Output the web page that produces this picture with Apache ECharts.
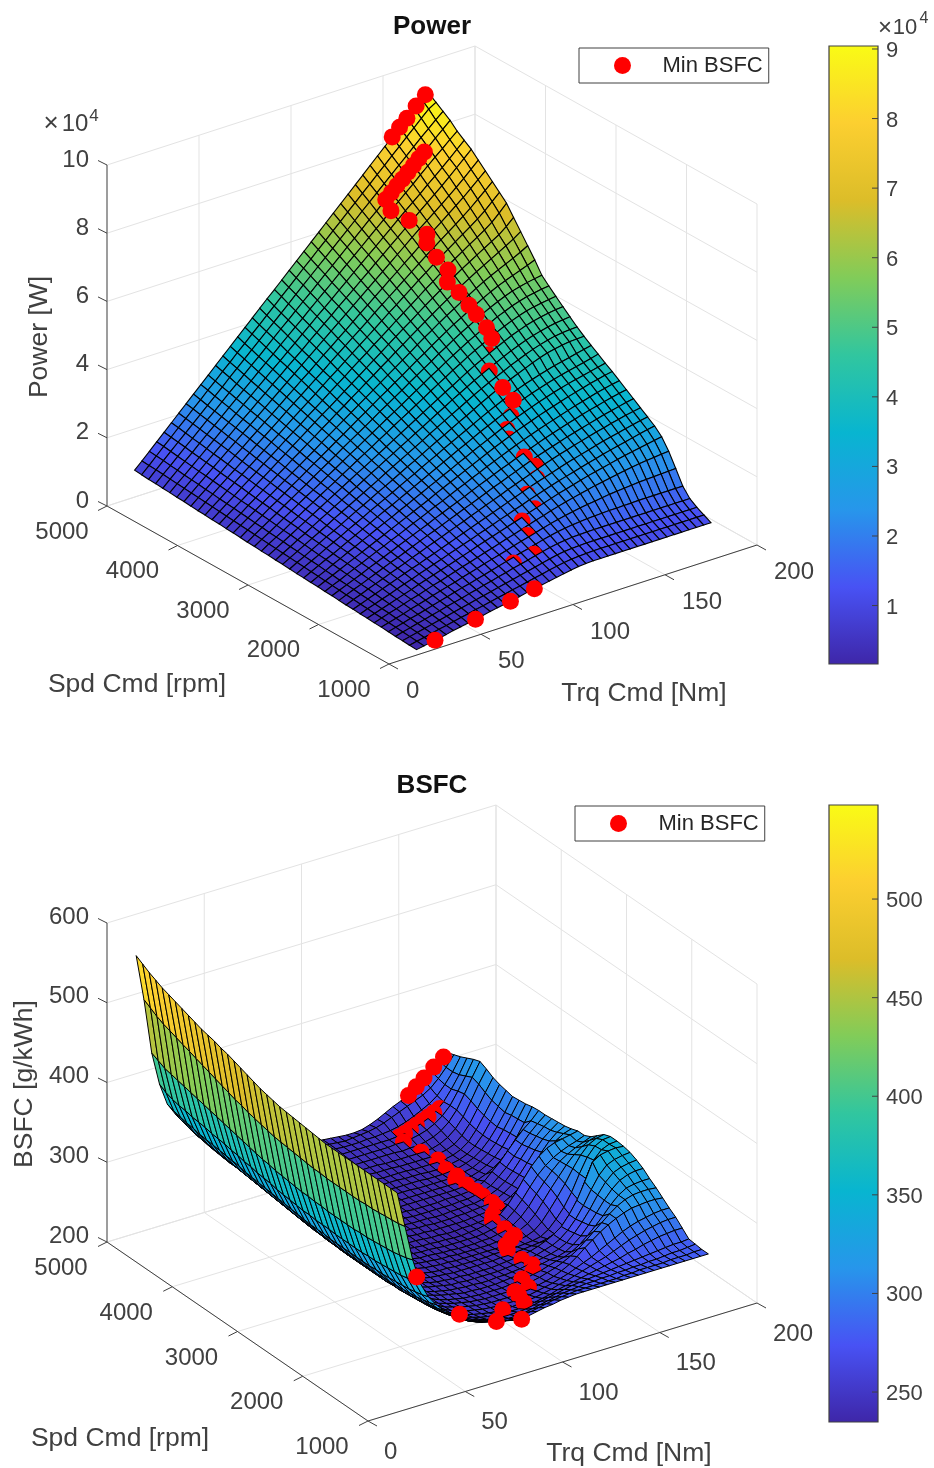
<!DOCTYPE html>
<html><head><meta charset="utf-8">
<style>html,body{margin:0;padding:0;background:#fff}#c{width:934px;height:1468px}</style>
<script src="https://cdn.jsdelivr.net/npm/echarts@6/dist/echarts.min.js"></script>
</head><body><div id="c"></div>
<script>
const trqCmd=[15,19,23,27,31,35,39,43,47,51,55,59,63,67,71,75,79,83,87,91,95,99,103,107,111,115,119,123,127,131,135,139,143,147,151,155,159,163,167,171,175];
const spdCmd=[1000,1100,1200,1300,1400,1500,1600,1700,1800,1900,2000,2100,2200,2300,2400,2500,2600,2700,2800,2900,3000,3100,3200,3300,3400,3500,3600,3700,3800,3900,4000,4100,4200,4300,4400,4500,4600,4700,4800,4900,5000];
// Power read from the surface, in units of 100 W (one row per spdCmd, one column per trqCmd)
const powerHectoWatt=[
[16,20,24,28,32,37,41,45,49,53,58,62,66,70,74,79,83,87,91,95,99,103,106,108,109,109,109,109,109,109,109,109,109,109,109,109,109,109,109,109,109],
[17,22,26,31,36,40,45,50,54,59,63,68,73,77,82,86,91,96,100,105,109,113,116,118,119,120,120,120,120,120,120,120,120,120,120,120,120,120,120,120,120],
[19,24,29,34,39,44,49,54,59,64,69,74,79,84,89,94,99,104,109,114,119,124,127,129,130,131,131,131,131,131,131,131,131,131,131,131,131,131,131,131,131],
[20,26,31,37,42,48,53,59,64,69,75,80,86,91,97,102,108,113,118,124,129,134,138,141,143,144,145,145,145,145,145,145,145,145,145,145,145,145,145,145,145],
[22,28,34,40,45,51,57,63,69,75,81,86,92,98,104,110,116,122,128,133,139,145,150,155,158,161,163,165,166,167,168,168,169,169,170,170,170,170,170,170,170],
[24,30,36,42,49,55,61,68,74,80,86,93,99,105,112,118,124,130,137,143,149,155,161,167,172,177,181,185,188,191,194,197,199,201,203,205,206,207,208,209,210],
[25,32,39,45,52,59,65,72,79,85,92,99,106,112,119,126,132,139,146,152,159,166,173,179,186,192,198,203,208,213,218,222,226,230,234,237,240,243,245,247,249],
[27,34,41,48,55,62,69,77,84,91,98,105,112,119,126,134,141,148,155,162,169,176,183,190,197,204,211,217,223,229,235,240,245,250,255,260,264,268,272,276,280],
[28,36,43,51,58,66,74,81,89,96,104,111,119,126,134,141,149,156,164,172,179,187,194,202,209,216,223,230,236,242,248,254,260,266,271,276,281,286,291,296,300],
[30,38,46,54,62,70,78,86,94,101,109,117,125,133,141,149,157,165,173,181,189,197,205,213,221,228,235,242,249,256,262,268,274,280,286,291,296,301,306,311,315],
[31,40,48,57,65,73,82,90,98,107,115,124,132,140,149,157,165,174,182,191,199,207,216,224,232,240,248,256,263,270,276,283,289,295,301,306,312,317,322,326,330],
[33,42,51,59,68,77,86,95,103,112,121,130,139,147,156,165,174,183,191,200,209,218,226,235,243,252,260,268,275,282,289,296,302,308,314,320,326,331,336,341,345],
[35,44,53,62,71,81,90,99,108,118,127,136,145,154,164,173,182,191,200,210,219,228,237,246,254,263,271,279,287,295,302,309,316,322,329,335,340,346,351,356,360],
[36,46,55,65,75,84,94,104,113,123,132,142,152,161,171,181,190,200,210,219,229,238,248,257,266,275,284,292,300,308,315,322,329,336,343,349,355,361,366,371,375],
[38,48,58,68,78,88,98,108,118,128,138,148,158,168,178,188,199,209,219,229,239,249,259,269,279,288,297,306,314,322,330,337,344,351,358,364,370,376,381,386,390],
[39,50,60,71,81,92,102,113,123,134,144,154,165,175,186,196,207,217,228,238,249,259,270,280,290,300,310,319,328,336,344,352,359,366,372,378,383,388,393,398,403],
[41,52,63,74,84,95,106,117,128,139,150,161,171,182,193,204,215,226,237,248,259,270,280,291,302,312,322,332,341,350,358,366,373,380,386,392,397,402,407,412,418],
[42,54,65,76,88,99,110,122,133,144,156,167,178,189,201,212,223,235,246,257,269,280,291,302,313,324,335,345,355,364,373,381,388,395,401,407,412,417,422,427,432],
[44,56,67,79,91,103,114,126,138,150,161,173,185,196,208,220,232,243,255,267,279,290,302,314,325,337,349,360,371,381,391,400,409,418,426,433,438,442,445,446,447],
[46,58,70,82,94,106,118,131,143,155,167,179,191,203,216,228,240,252,264,276,289,301,313,325,337,349,361,372,383,393,403,413,422,431,439,446,452,457,460,462,463],
[47,60,72,85,97,110,123,135,148,160,173,185,198,211,223,236,248,261,273,286,298,311,324,336,349,361,373,385,396,407,417,427,437,446,454,461,467,472,476,479,481],
[49,62,75,88,101,114,127,140,153,166,179,192,205,217,230,243,256,269,282,295,308,321,334,347,360,372,385,398,410,421,432,443,453,463,471,479,485,490,494,497,499],
[50,64,77,90,104,117,131,144,158,171,184,198,211,225,238,251,265,278,292,305,318,332,345,359,372,385,399,411,424,436,447,458,469,479,488,496,503,508,512,515,518],
[52,66,79,93,107,121,135,149,162,176,190,204,218,232,245,259,273,287,301,314,328,342,356,370,384,397,411,424,437,450,461,473,484,495,504,513,520,526,530,534,537],
[53,68,82,96,110,125,139,153,167,182,196,210,224,239,253,267,281,295,310,324,338,352,367,381,395,409,424,437,451,464,476,488,500,511,521,530,538,544,549,553,557],
[55,70,84,99,114,128,143,158,172,187,202,216,231,246,260,275,290,304,319,334,348,363,377,392,407,421,436,450,464,478,490,503,515,527,538,548,557,565,573,581,590],
[57,72,87,102,117,132,147,162,177,192,207,222,238,253,268,283,298,313,328,343,358,373,388,403,418,434,449,463,478,492,505,518,531,544,556,567,577,587,597,608,620],
[58,74,89,105,120,136,151,167,182,198,213,229,244,260,275,291,306,322,337,353,368,384,399,415,430,446,461,476,491,506,520,534,548,561,574,586,598,610,622,635,650],
[60,76,92,107,123,139,155,171,187,203,219,235,251,267,283,298,314,330,346,362,378,394,410,426,442,458,473,489,505,520,535,550,564,578,591,604,617,630,643,660,680],
[61,78,94,110,127,143,159,176,192,208,225,241,257,274,290,306,323,339,355,372,388,404,421,437,453,470,486,502,518,535,550,566,581,596,610,624,638,652,668,688,710],
[63,80,96,113,130,147,163,180,197,214,230,247,264,281,297,314,331,348,364,381,398,415,431,448,465,482,498,515,532,549,565,581,597,612,627,642,657,673,690,710,730],
[64,82,99,116,133,150,167,185,202,219,236,253,271,288,305,322,339,356,374,391,408,425,442,459,477,494,511,528,545,562,579,596,612,628,644,660,676,693,712,731,750],
[66,84,101,119,136,154,172,189,207,224,242,259,277,295,312,330,347,365,383,400,418,435,453,471,488,506,523,541,558,576,593,611,628,645,662,679,696,713,732,751,770],
[68,86,104,122,140,158,176,194,212,230,248,266,284,302,320,338,356,374,392,410,428,446,464,482,500,518,536,554,572,590,608,626,644,661,678,695,713,731,750,770,790],
[69,88,106,124,143,161,180,198,217,235,253,272,290,309,327,346,364,382,401,419,438,456,475,493,511,530,548,567,585,604,622,640,659,677,695,713,731,750,770,790,810],
[71,90,108,127,146,165,184,203,221,240,259,278,297,316,335,353,372,391,410,429,448,466,485,504,523,542,561,580,598,617,636,655,674,692,710,729,747,766,785,805,825],
[72,92,111,130,149,169,188,207,226,246,265,284,303,323,342,361,381,400,419,438,458,477,496,515,535,554,573,592,612,631,650,670,689,708,727,747,766,785,803,822,840],
[74,94,113,133,153,172,192,212,231,251,271,290,310,330,349,369,389,409,428,448,468,487,507,527,546,566,586,605,625,645,664,684,704,724,743,763,783,802,822,841,860],
[75,96,116,136,156,176,196,216,236,256,276,297,317,337,357,377,397,417,437,457,478,498,518,538,558,578,598,618,638,659,679,699,719,739,759,779,799,819,838,857,875],
[77,97,118,139,159,180,200,221,241,262,282,303,323,344,364,385,405,426,446,467,487,508,529,549,570,590,611,631,652,672,693,713,734,754,775,795,816,836,857,877,890],
[79,99,120,141,162,183,204,225,246,267,288,309,330,351,372,393,414,435,456,476,497,518,539,560,581,602,623,644,665,686,707,728,749,770,791,812,833,853,874,895,904]
];
// BSFC read from the surface, g/kWh
const bsfcGrid=[
[475,430,385,352,333,320,310,303,296,289,284,280,278,276,273,271,270,271,273,275,276,278,279,280,280,280,280,280,280,280,280,280,280,280,280,280,280,280,280,280,280],
[475,428,382,350,330,317,307,299,292,285,279,275,272,270,267,265,264,265,267,269,271,273,274,275,276,276,276,276,276,276,277,277,278,278,278,278,279,279,279,280,280],
[475,427,380,348,328,315,305,296,289,282,276,271,268,265,262,260,259,259,260,262,264,266,268,270,271,272,273,273,274,274,275,275,276,276,277,277,278,279,279,280,281],
[475,426,378,346,326,313,303,294,286,279,273,268,264,261,258,256,255,255,255,256,258,260,262,264,266,268,269,270,271,272,273,274,275,276,277,278,279,280,281,281,282],
[475,425,377,345,325,312,301,292,284,277,271,266,261,258,255,253,252,251,251,251,252,253,255,257,260,262,264,266,268,270,272,274,276,279,281,284,286,288,289,290,290],
[475,424,376,344,324,311,300,291,283,276,270,264,259,256,253,251,249,248,248,248,249,250,251,253,255,258,260,263,266,269,272,275,279,283,287,290,293,295,297,298,298],
[475,424,375,343,323,310,299,290,282,275,269,263,258,255,252,250,248,247,246,246,246,247,248,250,252,254,257,260,264,268,272,277,282,287,292,296,299,301,303,304,304],
[475,423,374,342,322,309,298,289,281,274,268,262,257,254,251,249,247,246,245,245,245,245,246,247,249,251,254,258,263,270,278,285,292,298,303,307,310,311,312,312,311],
[475,423,374,342,322,309,298,288,280,273,267,261,256,253,250,248,246,245,244,244,244,244,245,246,248,250,253,256,260,265,271,279,287,295,303,310,315,318,319,319,318],
[475,423,373,341,321,308,297,288,280,272,266,260,256,252,249,247,245,244,243,243,243,243,244,245,246,248,250,253,256,258,262,268,276,285,295,306,315,321,323,324,324],
[475,423,373,341,321,308,297,287,279,272,266,260,255,252,249,247,245,243,243,242,242,242,243,244,245,246,248,250,252,253,256,262,270,281,293,306,317,325,329,331,331],
[475,423,373,341,321,308,297,287,279,272,265,260,255,251,248,246,244,243,242,242,241,241,242,242,243,244,246,247,249,251,254,259,268,279,292,307,320,329,333,335,336],
[476,423,373,341,321,308,297,287,279,271,265,259,255,251,248,246,244,242,242,241,241,241,241,241,242,243,244,245,247,250,253,258,266,277,291,308,323,333,337,339,340],
[477,424,373,341,321,308,297,287,279,271,265,259,254,251,248,245,243,242,241,241,240,240,240,240,241,242,243,244,246,249,253,258,265,277,292,312,334,340,342,343,342],
[478,424,374,342,321,308,297,287,279,271,265,259,254,250,247,245,243,242,241,240,240,240,240,240,240,241,241,242,243,244,245,247,250,258,268,284,308,328,338,342,343],
[479,425,374,342,321,308,297,287,279,271,265,259,254,250,247,245,243,241,240,240,239,239,239,239,239,240,240,240,240,241,242,244,250,260,272,288,308,326,337,342,343],
[480,426,375,342,322,308,297,287,279,271,265,259,254,250,247,245,243,241,240,239,239,238,238,238,238,238,238,238,239,240,242,246,254,266,279,293,309,323,333,338,340],
[481,427,375,343,322,309,298,288,279,272,265,259,254,250,247,244,242,241,240,239,238,238,237,237,237,237,237,238,239,241,244,249,258,271,284,296,308,318,325,330,333],
[482,428,376,343,322,309,298,288,280,272,265,259,254,250,247,244,242,241,239,239,238,237,237,236,236,236,237,237,239,241,245,252,262,275,287,298,307,313,318,322,326],
[484,429,377,344,323,310,299,288,280,272,266,260,254,250,247,244,242,241,239,238,238,237,236,236,236,236,236,237,239,241,246,254,265,278,290,299,306,311,315,318,322],
[486,430,378,345,324,311,299,289,281,273,266,260,255,251,247,245,242,241,239,238,237,237,236,236,235,235,236,237,239,242,247,256,268,282,295,305,312,316,318,320,322],
[488,432,379,346,325,311,300,290,281,273,267,261,255,251,248,245,243,241,240,238,238,237,236,236,235,235,236,236,237,238,240,243,247,253,261,272,286,300,310,316,319],
[491,434,381,347,326,312,301,290,282,274,267,261,256,252,248,245,243,241,240,239,238,237,237,236,236,236,236,236,237,238,239,241,244,249,256,266,279,293,304,312,317],
[494,436,382,349,327,313,302,291,283,275,268,262,256,252,249,246,243,242,240,239,238,238,237,237,236,236,236,237,237,238,239,240,243,248,255,265,277,290,301,309,316],
[497,438,384,350,328,314,303,292,283,276,269,262,257,253,249,246,244,242,241,240,239,238,237,237,237,236,236,237,237,238,238,240,243,247,254,264,276,288,299,308,315],
[500,441,386,351,329,315,304,293,284,276,269,263,258,253,250,247,245,243,241,240,239,238,238,237,237,237,237,237,237,238,238,240,242,246,254,263,274,286,297,306,314],
[503,443,388,353,330,316,305,294,285,277,270,264,258,254,250,248,245,243,242,240,239,239,238,238,237,237,237,237,238,238,238,239,241,246,255,264,275,286,296,304,314],
[505,446,390,354,331,317,306,295,286,278,271,264,259,255,251,248,246,244,242,241,240,239,239,238,238,238,238,238,238,238,238,239,240,242,246,251,258,268,281,296,313],
[508,449,392,356,332,318,307,296,287,279,271,265,260,255,252,249,246,244,243,242,241,240,239,239,238,238,238,238,238,238,238,238,239,241,244,249,256,266,280,295,311],
[510,452,394,357,334,319,308,297,288,279,272,266,260,256,252,250,247,245,244,242,241,241,240,240,239,239,239,238,238,238,238,238,239,241,243,248,255,265,279,294,310],
[512,455,396,359,335,320,309,298,289,280,273,267,261,257,253,250,248,246,245,243,242,241,241,240,240,239,239,239,239,238,238,238,239,240,243,247,254,264,277,292,309],
[515,458,398,360,336,321,310,299,290,281,274,268,262,258,254,251,249,247,245,244,243,242,241,241,240,240,240,239,239,239,238,238,239,240,242,246,253,264,278,294,311],
[518,461,400,361,337,322,311,300,291,282,275,268,263,258,255,252,250,248,246,245,244,243,242,241,241,240,240,240,240,239,239,239,239,240,242,246,253,265,280,296,313],
[521,464,402,363,338,323,312,301,292,283,276,269,264,259,256,253,250,248,247,245,244,243,243,242,242,241,241,241,240,240,240,240,240,241,243,247,255,267,283,300,316],
[524,467,404,364,339,324,313,301,293,284,277,270,265,260,257,254,251,249,248,246,245,244,243,243,242,242,242,241,241,241,241,241,241,242,245,250,258,270,287,305,321],
[527,470,406,365,340,325,314,302,293,285,278,271,266,261,258,255,252,250,248,247,246,245,244,244,243,243,243,243,243,243,242,243,243,245,248,253,261,273,290,308,325],
[530,473,408,367,342,327,315,303,294,286,278,272,267,262,258,255,253,251,249,248,247,246,245,245,244,244,244,244,244,244,245,245,246,248,251,256,263,273,288,304,322],
[534,476,410,368,343,328,316,304,295,287,279,273,268,263,259,256,254,252,250,249,248,247,246,246,245,245,245,245,245,245,245,246,247,250,253,257,263,272,285,300,318],
[538,480,412,370,345,330,318,306,296,288,280,274,269,264,260,257,255,253,251,250,249,248,247,246,246,245,245,245,246,246,247,248,250,253,257,262,267,274,285,298,314],
[543,485,416,373,347,332,320,307,297,289,281,275,270,265,261,258,256,254,252,251,250,248,247,247,246,245,244,245,246,247,249,252,256,260,264,268,272,278,287,298,311],
[548,490,420,378,350,335,322,309,298,290,282,276,271,266,262,259,257,255,253,252,251,249,248,247,246,245,244,243,243,244,247,251,256,261,265,269,275,282,290,300,308]
];
// Min BSFC operating line
const minTrq=[25,47,66,79,81,91,95,98,106,108,116,119,118,118,120,125,130,130,130,134,139,140,140,140,140,139,142,141.5,142,144,142,139,140,143,146,149,152,155,158,161,155,159,163,168,173];
const minSpd=[1000,1000,1000,1000,1350,1320,1520,1670,1700,1860,1930,2030,2160,2380,2460,2530,2630,2780,2970,3080,3170,3270,3415,3520,3660,3800,3870,4020,4170,4220,4420,4600,4700,4700,4700,4700,4700,4700,4700,4700,5000,5000,5000,5000,5000];
const minPowerKW=[2.6,4.9,6.9,8.3,11.4,12.6,15.1,17.1,18.9,21.0,23.4,25.3,26.7,29.4,30.9,33.1,35.8,37.8,40.4,43.2,46.1,47.9,50.1,51.6,53.7,55.3,57.5,59.6,62.0,63.6,65.7,67.0,68.9,70.4,71.9,73.3,74.8,76.3,77.8,79.2,81.2,83.3,85.3,88.0,90.4];
const minBsfc=[362,299,276,269,260,263,258,252,250,250,250,250,250,250,250,250,245,245,245,243,243,243,243,243,243,243,241,241,240,240,240,245,245,247,250,253,256,259,262,265,269,277,285,295,304];
// whether the surface passes in front of each marker (1) or not (0)
const powerDotBehind=[0,0,0,0,1,1,1,1,1,1,1,1,1,1,1,1,0,0,1,1,0,0,0,0,0,0,0,0,0,0,0,0,0,0,0,0,0,0,0,0,0,0,0,0,0];
const bsfcDotBehind=[0,0,0,0,1,1,1,1,1,1,1,1,1,1,1,1,1,1,1,1,1,1,1,1,1,1,1,1,1,1,1,1,1,1,1,1,1,1,1,1,0,0,0,0,0];
// Axes
const trqTicks=[0,50,100,150,200];
const spdTicks=[1000,2000,3000,4000,5000];
const powerTicks=[0,20000,40000,60000,80000,100000];
const powerTickLabels=['0','2','4','6','8','10'];
const bsfcTicks=[200,300,400,500,600];
const powerBarTicks=[10000,20000,30000,40000,50000,60000,70000,80000,90000];
const powerBarLabels=['1','2','3','4','5','6','7','8','9'];
const bsfcBarTicks=[250,300,350,400,450,500];
const bsfcBarLabels=['250','300','350','400','450','500'];
const powerRange=[1600,90430];
const bsfcRange=[234.8,547.7];

const parula=[[62,38,168],[72,82,244],[39,150,235],[8,181,208],[49,198,159],[129,204,89],[220,189,41],[252,207,48],[249,251,21]];
function cmap(u){u=Math.max(0,Math.min(1,u));const f=u*8,i=Math.min(7,Math.floor(f)),r=f-i,a=parula[i],b=parula[i+1];
 return 'rgb('+a.map((v,k)=>Math.round(v+(b[k]-v)*r)).join(',')+')';}
const FONT='"Liberation Sans",Arial,sans-serif', INK='#404040';
const topView={ox:389,oy:664,tx:1.84,ty:-0.595,sx:-0.0705,sy:-0.0395,zy:-0.00341,zmin:0,zmax:100000,trqDy:27.5,trqDx:17,spdDx:-45,spdDy:26,zDy:-5,cover:0.012,mesh:1.1};
const botView={ox:368,oy:1421,tx:1.945,ty:-0.59,sx:-0.06525,sy:-0.04475,zy:-0.7975,zmin:200,zmax:600,trqDy:31,trqDx:16,spdDx:-46,spdDy:26.5,zDy:-6,cover:-0.004,mesh:1};
function proj(v,t,s,z){return [v.ox+v.tx*t+v.sx*(s-1000),v.oy+v.ty*t+v.sy*(s-1000)+v.zy*(z-v.zmin)];}
const depthKey=(t,s)=>(t-15)/160+(s-1000)/4000;
const toZ2=k=>Math.round((2-k)*1000);

function axesSeries(v,zTicks,zLabels){
 return {type:'custom',coordinateSystem:'cartesian2d',xAxisIndex:0,yAxisIndex:0,silent:true,z:1,animation:false,clip:false,data:[[0,0]],
 renderItem(params,api){
  const c=[];const P=(t,s,z)=>api.coord(proj(v,t,s,z));
  const line=(a,b,col,w)=>c.push({type:'line',shape:{x1:a[0],y1:a[1],x2:b[0],y2:b[1]},style:{stroke:col,lineWidth:w}});
  const txt=(x,y,t,al)=>c.push({type:'text',style:{x,y,text:t,font:'24px '+FONT,fill:INK,align:al,verticalAlign:'middle'}});
  const G='#e3e3e3';
  trqTicks.forEach(t=>{line(P(t,1000,v.zmin),P(t,5000,v.zmin),G,1);line(P(t,5000,v.zmin),P(t,5000,v.zmax),G,1);});
  spdTicks.forEach(s=>{line(P(0,s,v.zmin),P(200,s,v.zmin),G,1);line(P(200,s,v.zmin),P(200,s,v.zmax),G,1);});
  zTicks.forEach(z=>{line(P(0,5000,z),P(200,5000,z),G,1);line(P(200,5000,z),P(200,1000,z),G,1);});
  const A='#404040';
  line(P(0,5000,v.zmin),P(0,5000,v.zmax),'#666',1.2);
  line(P(0,1000,v.zmin),P(0,5000,v.zmin),A,1);
  line(P(0,1000,v.zmin),P(200,1000,v.zmin),A,1);
  trqTicks.forEach(t=>{const p=P(t,1000,v.zmin);line(p,[p[0]+9,p[1]+5],A,1);txt(p[0]+v.trqDx,p[1]+v.trqDy,String(t),'left');});
  spdTicks.forEach(s=>{const p=P(0,s,v.zmin);line(p,[p[0]-9,p[1]+4.5],A,1);txt(p[0]+v.spdDx,p[1]+v.spdDy,String(s),'center');});
  zTicks.forEach((z,i)=>{const p=P(0,5000,z);line(p,[p[0]-9,p[1]-4.5],A,1);txt(89,p[1]+v.zDy,zLabels[i],'right');});
  return {type:'group',children:c};
 }};
}
function surfaceSeries(v,grid,scale,range,name){
 const data=[];for(let j=0;j<spdCmd.length-1;j++)for(let i=0;i<trqCmd.length-1;i++)data.push([i,j]);
 return {type:'custom',name,coordinateSystem:'cartesian2d',xAxisIndex:0,yAxisIndex:0,silent:true,z:2,animation:false,clip:false,progressive:0,data,
 renderItem(params,api){
  const i=api.value(0),j=api.value(1);
  const q=[[i,j],[i+1,j],[i+1,j+1],[i,j+1]];
  let sum=0;const pts=q.map(([a,b])=>{const z=grid[b][a]*scale;sum+=z;return api.coord(proj(v,trqCmd[a],spdCmd[b],z));});
  const u=(sum/4-range[0])/(range[1]-range[0]);
  return {type:'polygon',z2:toZ2(depthKey((trqCmd[i]+trqCmd[i+1])/2,(spdCmd[j]+spdCmd[j+1])/2)),shape:{points:pts},style:{fill:cmap(u),stroke:'#000',lineWidth:v.mesh}};
 }};
}
function dotSeries(v,zs,behind){
 const data=minTrq.map((t,k)=>[t,minSpd[k],zs[k],behind[k]]);
 return {type:'custom',name:'Min BSFC',coordinateSystem:'cartesian2d',xAxisIndex:0,yAxisIndex:0,silent:true,z:2,animation:false,clip:false,itemStyle:{color:'#ff0000'},data,
 renderItem(params,api){
  const t=api.value(0),s=api.value(1),z=api.value(2),b=api.value(3);
  const p=api.coord(proj(v,t,s,z));
  return {type:'circle',z2:b?toZ2(depthKey(t,s)+v.cover):3000,shape:{cx:p[0],cy:p[1],r:8.5},style:{fill:'#ff0000'}};
 }};
}
function colorBar(xi,yi,range,ticks,labels){
 const stops=parula.map((c,k)=>({offset:1-k/8,color:'rgb('+c.join(',')+')'})).reverse();
 return {type:'custom',coordinateSystem:'cartesian2d',xAxisIndex:xi,yAxisIndex:yi,silent:true,z:3,animation:false,clip:false,data:[[0]],
 renderItem(params,api){const a=api.coord([0,range[1]]),b=api.coord([1,range[0]]);
  const c=[{type:'rect',shape:{x:a[0],y:a[1],width:b[0]-a[0],height:b[1]-a[1]},style:{fill:new echarts.graphic.LinearGradient(0,0,0,1,stops),stroke:'#404040',lineWidth:1.2}}];
  ticks.forEach((t,i)=>{const p=api.coord([1,t]);
   c.push({type:'line',shape:{x1:p[0],y1:p[1],x2:p[0]-6,y2:p[1]},style:{stroke:'#404040',lineWidth:1}});
   c.push({type:'text',style:{x:p[0]+8,y:p[1]+2,text:labels[i],font:'22px '+FONT,fill:INK,align:'left',verticalAlign:'middle'}});});
  return {type:'group',children:c};}};
}
const barY=(range)=>({type:'value',min:range[0],max:range[1],show:false});
const hiddenX=(a,b,g)=>({type:'value',min:a,max:b,gridIndex:g,show:false});
const legendBox=(left,top)=>({show:true,orient:'horizontal',left,top,padding:[6.5,6,6.5,35],itemWidth:60,itemHeight:17,selectedMode:false,
 data:[{name:'Min BSFC',icon:'circle'}],backgroundColor:'#fff',borderColor:'#404040',borderWidth:1,z:10,
 textStyle:{color:'#262626',fontSize:22,fontFamily:FONT,lineHeight:17,padding:[4,0,0,5]}});
const titleBox=(text,top)=>({text,left:432,top,padding:0,textAlign:'center',textStyle:{fontSize:26,fontWeight:'bold',fontFamily:FONT,color:'#111'}});
const gtext=(x,y,text,size,rot)=>({type:'text',x,y,rotation:rot||0,z:20,silent:true,style:{text,font:size+'px '+FONT,fill:INK,align:'center',verticalAlign:'middle'}});

const chart=echarts.init(document.getElementById('c'),null,{renderer:'canvas',width:934,height:1468});
chart.setOption({
 animation:false,backgroundColor:'#fff',
 title:[titleBox('Power',14),titleBox('BSFC',773)],
 legend:[legendBox(579,48),legendBox(575,806)],
 grid:[{left:0,top:0,width:934,height:1468},{left:829,top:46,width:49,height:618},{left:829,top:805,width:49,height:617}],
 xAxis:[hiddenX(0,934,0),hiddenX(0,1,1),hiddenX(0,1,2)],
 yAxis:[{type:'value',min:0,max:1468,inverse:true,gridIndex:0,show:false},
  Object.assign({gridIndex:1},barY(powerRange)),
  Object.assign({gridIndex:2},barY(bsfcRange))],
 graphic:{elements:[
  gtext(137,685,'Spd Cmd [rpm]',26.5),gtext(644,694,'Trq Cmd [Nm]',26.5),gtext(120,1439,'Spd Cmd [rpm]',26.5),gtext(629,1454,'Trq Cmd [Nm]',26.5),
  gtext(40,337,'Power [W]',26.5,Math.PI/2),gtext(25,1084,'BSFC [g/kWh]',26.5,Math.PI/2),
  gtext(51,124,'×',26),gtext(75,124,'10',24),gtext(94,116,'4',17),
  gtext(885,28,'×',24),gtext(905,28,'10',22),gtext(924,19,'4',16)
 ]},
 series:[
  axesSeries(topView,powerTicks,powerTickLabels),
  surfaceSeries(topView,powerHectoWatt,100,powerRange,'Power'),
  dotSeries(topView,minPowerKW.map(k=>k*1000),powerDotBehind),
  colorBar(1,1,powerRange,powerBarTicks,powerBarLabels),
  axesSeries(botView,bsfcTicks,bsfcTicks.map(String)),
  surfaceSeries(botView,bsfcGrid,1,bsfcRange,'BSFC'),
  dotSeries(botView,minBsfc,bsfcDotBehind),
  colorBar(2,2,bsfcRange,bsfcBarTicks,bsfcBarLabels)
 ]
});
</script></body></html>
